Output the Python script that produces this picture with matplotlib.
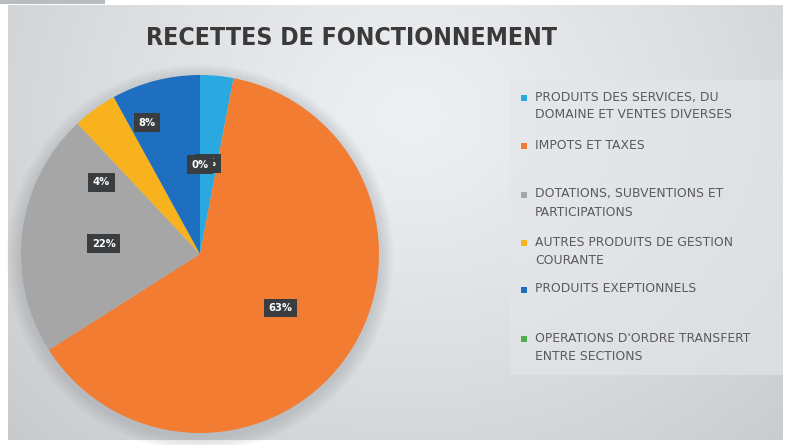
import numpy as np
import matplotlib
matplotlib.use("Agg")
import matplotlib.pyplot as plt
from matplotlib.patches import Rectangle, Ellipse

categories = [
    "PRODUITS DES SERVICES, DU\nDOMAINE ET VENTES DIVERSES",
    "IMPOTS ET TAXES",
    "DOTATIONS, SUBVENTIONS ET\nPARTICIPATIONS",
    "AUTRES PRODUITS DE GESTION\nCOURANTE",
    "PRODUITS EXEPTIONNELS",
    "OPERATIONS D'ORDRE TRANSFERT\nENTRE SECTIONS",
]
values = [3, 63, 22, 4, 8, 0]
pct_labels = ["3%", "63%", "22%", "4%", "8%", "0%"]
colors = ["#2aa8e0", "#f27d32", "#a6a6a6", "#f7b21e", "#1e6fc0", "#4cae4f"]

W, H = 791, 445
fig = plt.figure(figsize=(W / 100, H / 100), dpi=100)
fig.patch.set_facecolor("white")

# background with radial gradient
bg = fig.add_axes([8 / W, 5 / H, 775 / W, 435 / H])
x = np.linspace(0, 1, 400)
y = np.linspace(0, 1, 220)
X, Y = np.meshgrid(x, y)
d = np.sqrt(((X - 0.52) / 0.6) ** 2 + ((Y - 0.75) / 0.9) ** 2)
v = 0.945 - 0.12 * d ** 1.2
bg.imshow(np.dstack([v * 0.985, v * 0.995, v * 1.005]).clip(0, 1), aspect="auto",
          extent=[0, 1, 0, 1], origin="lower")
bg.set_axis_off()
fig.patches.append(Rectangle((0, 1 - 4 / H), 105 / W, 4 / H, transform=fig.transFigure,
                             facecolor="#b9bcbf", edgecolor="none"))

# legend panel
fig.patches.append(Rectangle((510 / W, 1 - 375 / H), 273 / W, 295 / H, transform=fig.transFigure,
                             facecolor="#e4e7ea", edgecolor="none", alpha=0.6))

fig.text(352 / W, 1 - 38 / H, "RECETTES DE FONCTIONNEMENT", ha="center", va="center",
         fontsize=17.8, fontweight="bold", fontstretch="condensed", color="#3a3a3a",
         family=["DejaVu Sans"])

# pie
cx, cy, r = 200, 254, 179
ax = fig.add_axes([(cx - r) / W, 1 - (cy + r) / H, 2 * r / W, 2 * r / H])
for k in range(8):
    e = Ellipse((0.0, -0.02), 2 + 0.02 * (k + 1), 2 + 0.02 * (k + 1),
                facecolor="#8a9097", edgecolor="none", alpha=0.045, zorder=0)
    e.set_clip_on(False)
    ax.add_patch(e)
wedges, _ = ax.pie(values, colors=colors, startangle=90, counterclock=False,
                   wedgeprops=dict(linewidth=0))
ax.set_aspect("auto")
ax.set_xlim(-1, 1)
ax.set_ylim(-1, 1)
for w in wedges:
    w.set_zorder(2)

# label polar placement (angle in degrees, radius fraction)
label_pos = [(85, 0.51), (-34, 0.54), (174, 0.54), (144, 0.68), (112, 0.79), (90, 0.50)]
for i, lab in enumerate(pct_labels):
    a = np.deg2rad(label_pos[i][0])
    px = label_pos[i][1] * np.cos(a)
    py = label_pos[i][1] * np.sin(a)
    ax.text(px, py, lab, ha="center", va="center", color="white",
            fontsize=8, fontweight="bold", zorder=6 if i == 5 else 5,
            fontstretch="condensed",
            bbox=dict(boxstyle="square,pad=0.4", facecolor="#3a3d40", edgecolor="none"))

# legend drawn manually
rows_y = [98, 146, 195, 243, 290, 339]
for lab, col, yy in zip(categories, colors, rows_y):
    fig.patches.append(Rectangle((521 / W, 1 - (yy + 3) / H), 6 / W, 6 / H,
                                 transform=fig.transFigure, facecolor=col, edgecolor="none"))
    fig.text(535 / W, 1 - (yy - 7.5) / H, lab, ha="left", va="top", fontsize=8.9,
             color="#5a5a5a", linespacing=1.5, family=["DejaVu Sans"])

fig.savefig("out.png", dpi=100)
